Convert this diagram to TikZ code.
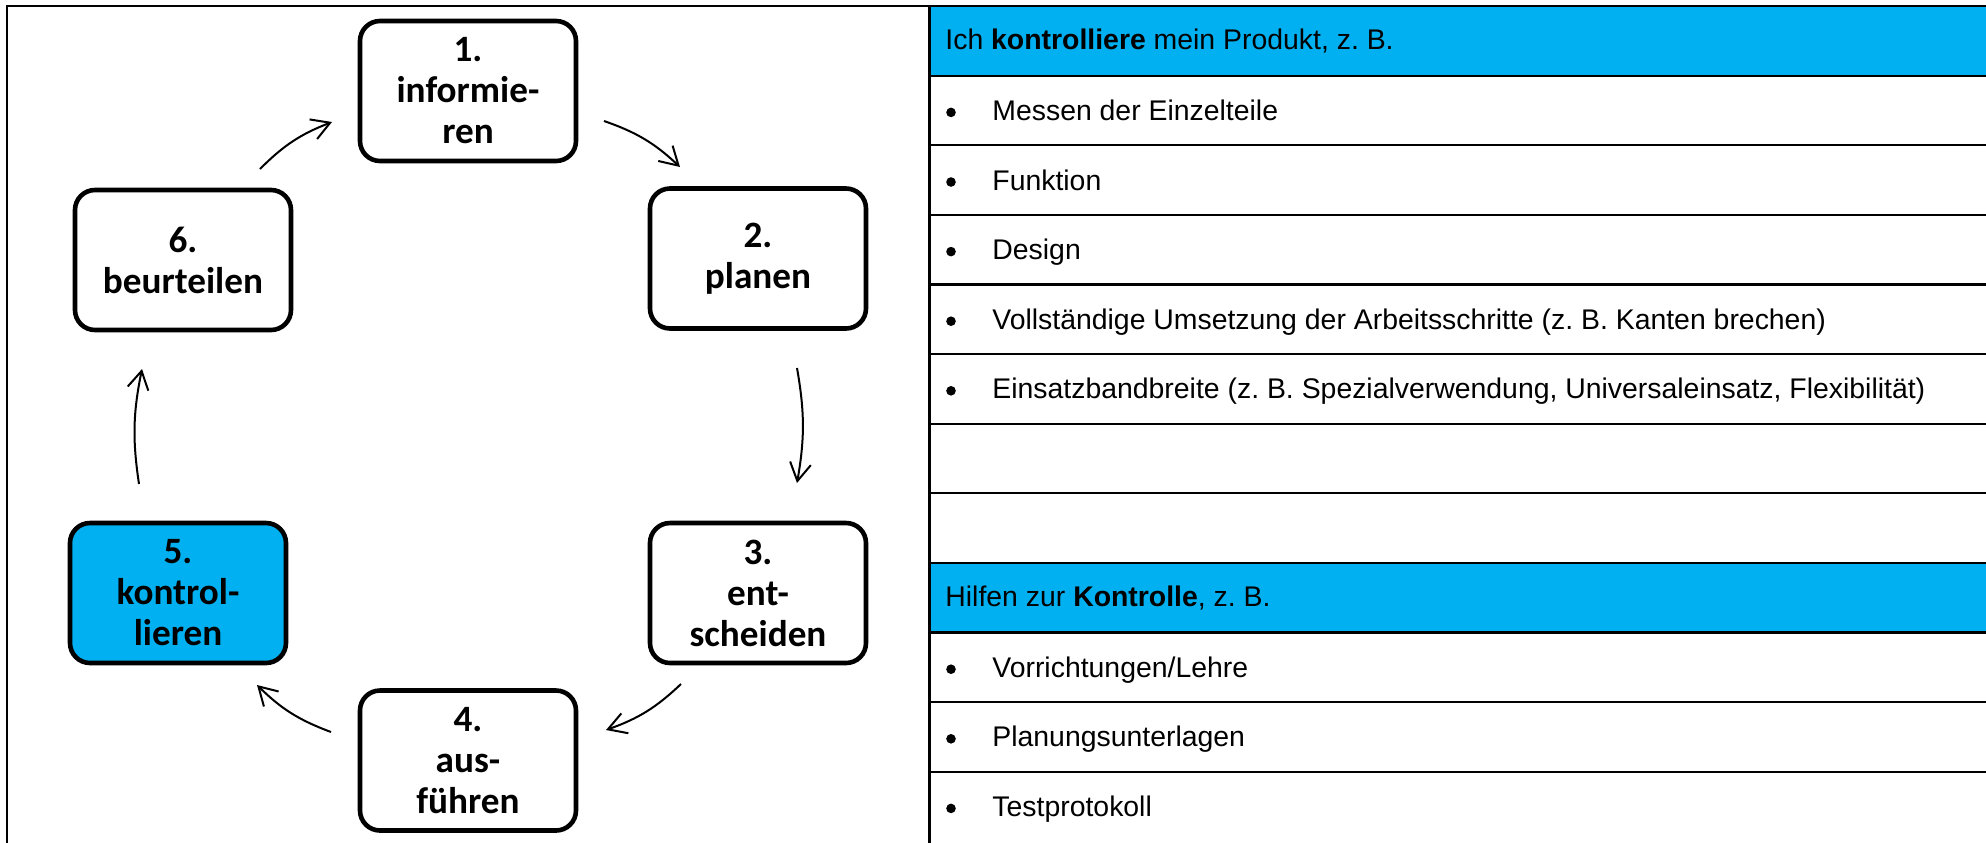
\documentclass[tikz,border=0pt]{standalone}
\usepackage{fontspec}
\setmainfont{Liberation Sans}
\newfontfamily\calibri{Carlito}
\usetikzlibrary{arrows.meta}
\definecolor{wblue}{RGB}{0,176,240}
\frenchspacing
\begin{document}
\begin{tikzpicture}[x=0.5pt,y=-0.5pt,
  stepbox/.style={draw=black, line width=2.3pt, rounded corners=10pt,
    minimum width=108pt, minimum height=70pt, align=center, inner sep=0pt,
    font=\calibri\bfseries\fontsize{18.6}{20.5}\selectfont},
  cyc/.style={-{Straight Barb[length=9pt,width=10.5pt,line width=1pt]}, line width=1pt},
  rowtext/.style={anchor=base west, inner sep=0pt, font=\frenchspacing\fontsize{14.2}{17}\selectfont},
  bullet/.style={circle, fill=black, minimum size=4.8pt, inner sep=0pt},
  rule/.style={line width=1.1pt}]
\useasboundingbox (0,0) rectangle (1986,842);

% blue header rows
\fill[wblue] (929,6) rectangle (1990,75.6);
\fill[wblue] (929,562.8) rectangle (1990,632.4);

% frame and table rules
\draw[rule] (7,850) -- (7,6) -- (1990,6);
\draw[line width=1.5pt] (929,6) -- (929,850);
\foreach \i in {1,...,11} \draw[rule] (929,{6+69.6*\i}) -- (1990,{6+69.6*\i});

% cycle boxes
\node[stepbox] (s1) at (468,91) {1.\\informie-\\ren};
\node[stepbox] (s2) at (758,258.5) {2.\\planen};
\node[stepbox] (s3) at (758,593) {3.\\ent-\\scheiden};
\node[stepbox] (s4) at (468,760.5) {4.\\aus-\\führen};
\node[stepbox, fill=wblue] (s5) at (178,593) {5.\\kontrol-\\lieren};
\node[stepbox] (s6) at (183,260) {6.\\beurteilen};

% arrow end points
\coordinate (a61s) at (260,169); \coordinate (a61e) at (332,122);
\coordinate (a12s) at (604,121); \coordinate (a12e) at (680,167);
\coordinate (a23s) at (797,368); \coordinate (a23e) at (797,483);
\coordinate (a34s) at (681,684); \coordinate (a34e) at (606,730);
\coordinate (a45s) at (331,732); \coordinate (a45e) at (257,685);
\coordinate (a56s) at (139,484); \coordinate (a56e) at (142,369);

\draw[cyc] (a61s) to[bend left=12] (a61e);
\draw[cyc] (a12s) to[bend left=12] (a12e);
\draw[cyc] (a23s) to[bend left=10] (a23e);
\draw[cyc] (a34s) to[bend left=12] (a34e);
\draw[cyc] (a45s) to[bend left=12] (a45e);
\draw[cyc] (a56s) to[bend left=10] (a56e);

% table texts
\node[rowtext] (h1) at (945,49.5) {Ich \textbf{kontrolliere} mein Produkt, z. B.};
\node[bullet] (b2) at (951,112.4) {};
\node[rowtext] (t2) at (992,120.4) {Messen der Einzelteile};
\node[bullet] (b3) at (951,182) {};
\node[rowtext] (t3) at (992,190) {Funktion};
\node[bullet] (b4) at (951,251.6) {};
\node[rowtext] (t4) at (992,259.6) {Design};
\node[bullet] (b5) at (951,321.2) {};
\node[rowtext] (t5) at (992,329.2) {Vollständige Umsetzung der Arbeitsschritte (z. B. Kanten brechen)};
\node[bullet] (b6) at (951,390.8) {};
\node[rowtext] (t6) at (992,398.8) {Einsatzbandbreite (z. B. Spezialverwendung, Universaleinsatz, Flexibilität)};
\node[rowtext] (h9) at (945,606.6) {Hilfen zur \textbf{Kontrolle}, z. B.};
\node[bullet] (b10) at (951,669.2) {};
\node[rowtext] (t10) at (992,677.2) {Vorrichtungen/Lehre};
\node[bullet] (b11) at (951,738.8) {};
\node[rowtext] (t11) at (992,746.8) {Planungsunterlagen};
\node[bullet] (b12) at (951,808.4) {};
\node[rowtext] (t12) at (992,816.4) {Testprotokoll};
\end{tikzpicture}
\end{document}
